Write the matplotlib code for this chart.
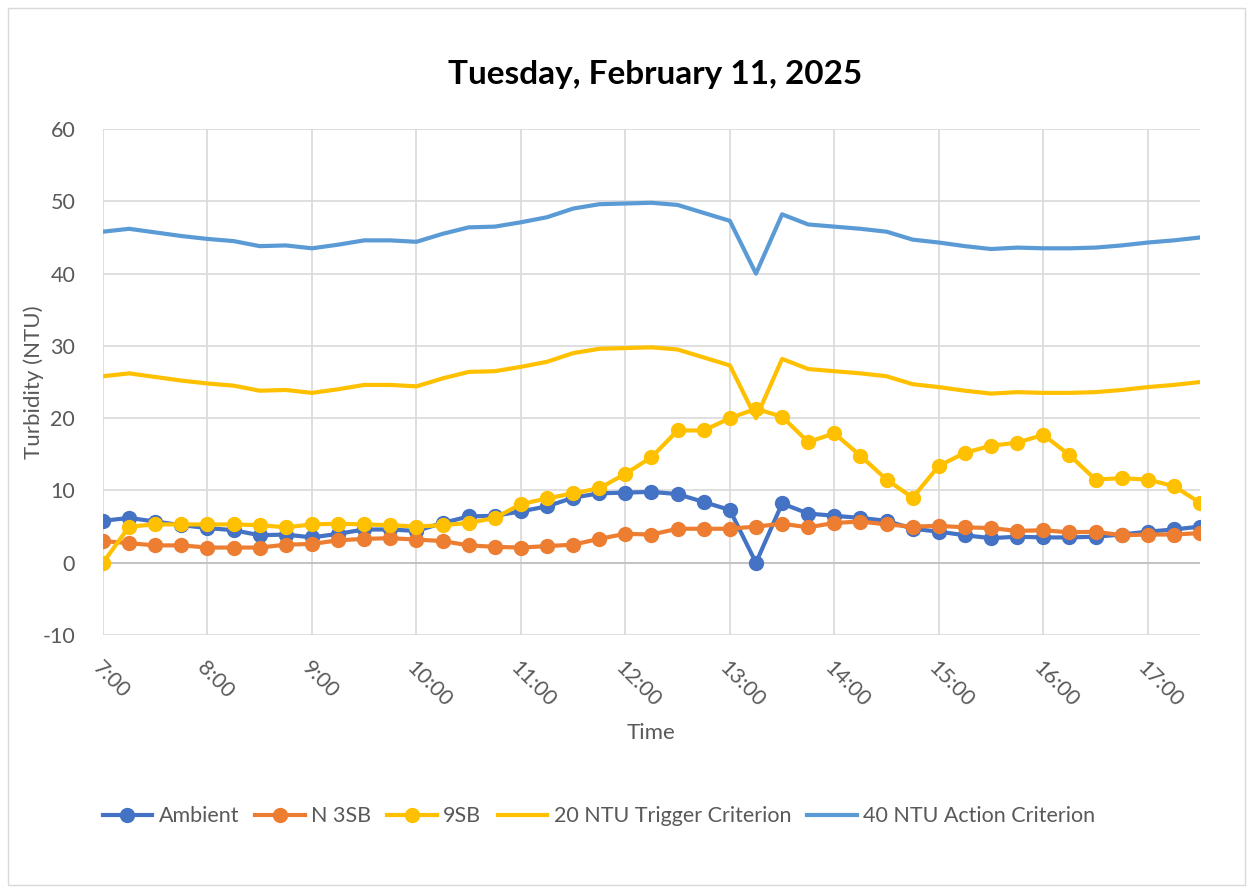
import matplotlib
matplotlib.use("Agg")
import matplotlib.pyplot as plt
from matplotlib.patches import Rectangle

times = [7 + 0.25 * i for i in range(43)]
hour_ticks = [7, 8, 9, 10, 11, 12, 13, 14, 15, 16, 17]
hour_labels = ["7:00", "8:00", "9:00", "10:00", "11:00", "12:00", "13:00",
               "14:00", "15:00", "16:00", "17:00"]

ambient = [5.8, 6.2, 5.7, 5.2, 4.8, 4.5, 3.8, 3.9, 3.5, 4.0, 4.6, 4.6, 4.4,
           5.5, 6.4, 6.5, 7.1, 7.8, 9.0, 9.6, 9.7, 9.8, 9.5, 8.4, 7.3, 0.0,
           8.2, 6.8, 6.5, 6.2, 5.8, 4.7, 4.3, 3.8, 3.4, 3.6, 3.5, 3.5, 3.6,
           3.9, 4.3, 4.6, 5.0]
n3sb = [3.0, 2.7, 2.4, 2.4, 2.1, 2.1, 2.1, 2.5, 2.6, 3.1, 3.3, 3.4, 3.2,
        3.0, 2.4, 2.2, 2.1, 2.3, 2.5, 3.3, 4.0, 3.9, 4.7, 4.7, 4.7, 5.0,
        5.4, 4.9, 5.5, 5.7, 5.3, 5.0, 5.1, 4.9, 4.8, 4.4, 4.5, 4.2, 4.3,
        3.8, 3.9, 3.9, 4.1]
sb9 = [0.0, 5.0, 5.3, 5.3, 5.3, 5.3, 5.2, 4.9, 5.3, 5.4, 5.3, 5.2, 5.0,
       5.2, 5.5, 6.2, 8.1, 8.9, 9.6, 10.3, 12.3, 14.6, 18.3, 18.3, 20.0,
       21.3, 20.2, 16.7, 17.9, 14.8, 11.5, 9.0, 13.4, 15.2, 16.2, 16.6,
       17.7, 14.9, 11.5, 11.7, 11.5, 10.6, 8.3]
trigger = [25.8, 26.2, 25.7, 25.2, 24.8, 24.5, 23.8, 23.9, 23.5, 24.0, 24.6,
           24.6, 24.4, 25.5, 26.4, 26.5, 27.1, 27.8, 29.0, 29.6, 29.7, 29.8,
           29.5, 28.4, 27.3, 20.0, 28.2, 26.8, 26.5, 26.2, 25.8, 24.7, 24.3,
           23.8, 23.4, 23.6, 23.5, 23.5, 23.6, 23.9, 24.3, 24.6, 25.0]
action = [45.8, 46.2, 45.7, 45.2, 44.8, 44.5, 43.8, 43.9, 43.5, 44.0, 44.6,
          44.6, 44.4, 45.5, 46.4, 46.5, 47.1, 47.8, 49.0, 49.6, 49.7, 49.8,
          49.5, 48.4, 47.3, 40.0, 48.2, 46.8, 46.5, 46.2, 45.8, 44.7, 44.3,
          43.8, 43.4, 43.6, 43.5, 43.5, 43.6, 43.9, 44.3, 44.6, 45.0]
y_ticks = [-10, 0, 10, 20, 30, 40, 50, 60]

FONT = ["Lato", "DejaVu Sans"]
plt.rcParams['font.family'] = FONT
plt.rcParams['axes.unicode_minus'] = False
TXT = "#595959"

fig = plt.figure(figsize=(12.53, 8.9), dpi=100)
fig.patches.append(Rectangle((0.006, 0.006), 0.988, 0.985, transform=fig.transFigure,
                             fill=False, edgecolor="#D9D9D9", linewidth=1))
ax = fig.add_axes([0.0822, 0.2865, 0.8755, 0.5685])

lw = 3
ms = 10
ax.plot(times, ambient, color="#4472C4", lw=lw, marker="o", ms=ms, label="Ambient", zorder=5)
ax.plot(times, n3sb, color="#ED7D31", lw=lw, marker="o", ms=ms, label="N 3SB", zorder=6)
ax.plot(times, sb9, color="#FFC000", lw=lw, marker="o", ms=ms, label="9SB", zorder=7)
ax.plot(times, trigger, color="#FFC000", lw=lw, label="20 NTU Trigger Criterion", zorder=4)
ax.plot(times, action, color="#5B9BD5", lw=lw, label="40 NTU Action Criterion", zorder=4)

ax.set_xlim(7, 17.5)
ax.set_ylim(-10, 60)
ax.set_yticks(y_ticks)
ax.set_xticks(hour_ticks)
ax.set_xticklabels(hour_labels, rotation=-45, ha="left", va="top", rotation_mode="anchor")
ax.tick_params(axis="both", length=0, labelsize=15.5, colors=TXT)
ax.tick_params(axis="x", pad=16)
ax.tick_params(axis="y", pad=20)
ax.grid(True, color="#D9D9D9", linewidth=1.2)
ax.set_axisbelow(True)
for s in ax.spines.values():
    s.set_visible(False)
ax.axhline(0, color="#BFBFBF", linewidth=1.2, zorder=1)

ax.set_xlabel("Time", fontsize=16, color=TXT, labelpad=9)
ax.set_ylabel("Turbidity (NTU)", fontsize=16, color=TXT, labelpad=-1)

fig.text(0.523, 0.916, "Tuesday, February 11, 2025", ha="center", va="center",
         fontsize=24, fontweight="bold", color="black")

handles, labels = ax.get_legend_handles_labels()
fig.legend(handles, labels, loc="center", bbox_to_anchor=(0.478, 0.083), ncol=5,
           frameon=False, fontsize=15.5, handlelength=2.3, columnspacing=0.75,
           handletextpad=0.3, labelcolor=TXT)

fig.savefig("out.png", dpi=100)
